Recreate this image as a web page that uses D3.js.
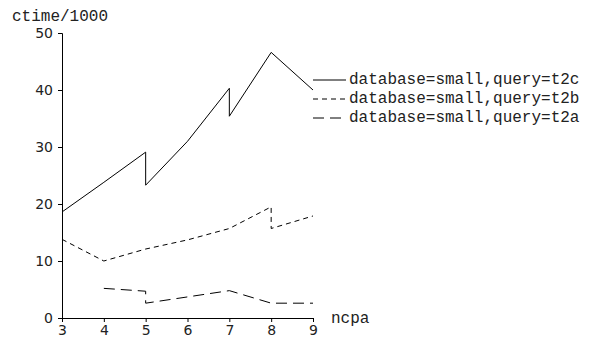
<!DOCTYPE html>
<html>
<head>
<meta charset="utf-8">
<script src="https://cdn.jsdelivr.net/npm/d3@7"></script>
<style>
  html, body { margin: 0; padding: 0; background: #fff; }
  svg { display: block; }
</style>
</head>
<body>
<svg id="chart" width="591" height="337"></svg>
<script>
// ncpa values and ctime/1000 readings for each query (repeated ncpa = step)
const t2cNcpa = [3, 4, 5, 5, 6, 7, 7, 8, 9];
const t2cTime = [18.6, 23.8, 29.1, 23.3, 31.0, 40.3, 35.4, 46.6, 40.0];

const t2bNcpa = [3, 4, 5, 6, 7, 8, 8, 9];
const t2bTime = [13.8, 10.0, 12.1, 13.7, 15.7, 19.5, 15.7, 17.9];

const t2aNcpa = [4, 5, 5, 6, 7, 8, 9];
const t2aTime = [5.2, 4.7, 2.6, 3.7, 4.8, 2.6, 2.6];

const seriesLabels = [
  "database=small,query=t2c",
  "database=small,query=t2b",
  "database=small,query=t2a"
];
const xTicks = [3, 4, 5, 6, 7, 8, 9];
const yTicks = [0, 10, 20, 30, 40, 50];

const series = [
  { label: seriesLabels[0], xs: t2cNcpa, ys: t2cTime, dash: null },
  { label: seriesLabels[1], xs: t2bNcpa, ys: t2bTime, dash: "5,4" },
  { label: seriesLabels[2], xs: t2aNcpa, ys: t2aTime, dash: "11,6" }
];

const svg = d3.select("#chart");
const x = d3.scaleLinear().domain([3, 9]).range([62, 313]);
const y = d3.scaleLinear().domain([0, 50]).range([318, 33]);

const mono = "'Liberation Mono', 'Courier New', monospace";
const sans = "'DejaVu Sans', sans-serif";

// y axis
const yAxis = svg.append("g")
  .attr("transform", `translate(${x(3)},0)`)
  .call(d3.axisLeft(y).tickValues(yTicks).tickFormat(d3.format("d"))
    .tickSize(4).tickSizeOuter(4).tickPadding(5));
yAxis.selectAll("text").attr("font-family", sans).attr("font-size", 14).attr("fill", "#222");

// x axis
const xAxis = svg.append("g")
  .attr("transform", `translate(0,${y(0)})`)
  .call(d3.axisBottom(x).tickValues(xTicks).tickFormat(d3.format("d"))
    .tickSize(4).tickSizeOuter(4).tickPadding(3));
xAxis.selectAll("text").attr("font-family", sans).attr("font-size", 14).attr("fill", "#222");

svg.selectAll(".domain, .tick line").attr("stroke", "#000").attr("stroke-width", 1);

// axis titles
svg.append("text")
  .attr("x", 12).attr("y", 21)
  .attr("font-family", mono).attr("font-size", 16).attr("fill", "#222")
  .text("ctime/1000");
svg.append("text")
  .attr("x", 331).attr("y", 323)
  .attr("font-family", mono).attr("font-size", 16).attr("fill", "#222")
  .text("ncpa");

// series lines
const line = d3.line().x(d => x(d[0])).y(d => y(d[1]));
series.forEach(s => {
  const pts = s.xs.map((v, i) => [v, s.ys[i]]);
  svg.append("path")
    .datum(pts)
    .attr("d", line)
    .attr("fill", "none")
    .attr("stroke", "#000")
    .attr("stroke-width", 1)
    .attr("stroke-dasharray", s.dash);
});

// legend
const legend = svg.append("g");
series.forEach((s, i) => {
  const ly = 80 + i * 19;
  legend.append("line")
    .attr("x1", 313).attr("x2", 346)
    .attr("y1", ly).attr("y2", ly)
    .attr("stroke", "#000").attr("stroke-width", 1)
    .attr("stroke-dasharray", s.dash);
  legend.append("text")
    .attr("x", 349).attr("y", ly + 4)
    .attr("font-family", mono).attr("font-size", 16).attr("fill", "#222")
    .text(s.label);
});
</script>
</body>
</html>
